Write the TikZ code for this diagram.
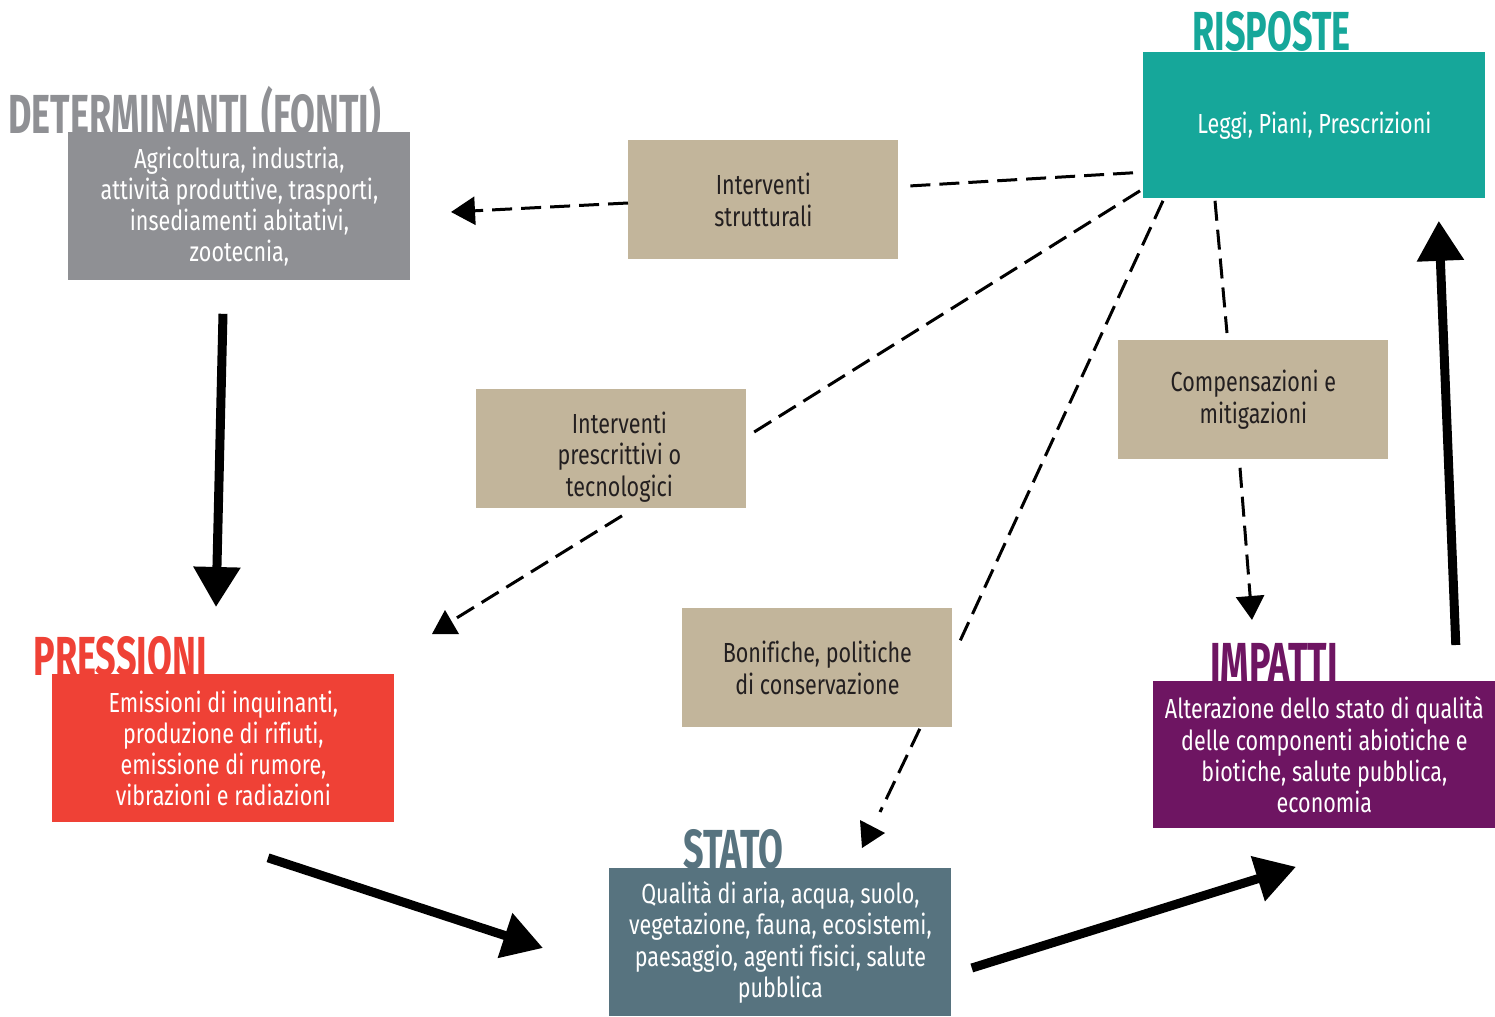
\documentclass[tikz,border=0pt]{standalone}
\usepackage{fontspec}
\setmainfont{Fira Sans}[FakeStretch=0.78, Ligatures=NoCommon]
\newfontfamily\titlefont{Fira Sans}[FakeStretch=0.655, Ligatures=NoCommon]
\usetikzlibrary{arrows.meta}
\definecolor{cgray}{HTML}{8F9094}
\definecolor{cteal}{HTML}{16A79A}
\definecolor{cred}{HTML}{EF4136}
\definecolor{cpurple}{HTML}{6E1562}
\definecolor{cslate}{HTML}{57737F}
\definecolor{ctan}{HTML}{C2B59B}
\definecolor{ctext}{HTML}{231F20}
\begin{document}
\begin{tikzpicture}[x=0.5pt,y=-0.5pt,
  box/.style={rectangle, anchor=north west, inner sep=0pt, align=center, text=white,
    minimum width=171pt, minimum height=74pt, font=\fontsize{13.8}{15.6}\selectfont},
  tanbox/.style={box, fill=ctan, text=ctext, minimum width=135pt, minimum height=59.5pt,
    font=\fontsize{13.8}{15.8}\selectfont},
  tantext/.style={inner sep=0pt, align=center, text=ctext, font=\fontsize{13.8}{15.8}\selectfont},
  ttl/.style={anchor=base west, inner sep=0pt, font=\titlefont\bfseries\fontsize{27.5}{30}\selectfont},
  bigarrow/.style={line width=4.5pt, -{Triangle[width=22.5pt,length=20pt]}},
  dashline/.style={line width=1.5pt, dash pattern=on 10pt off 4.5pt},
  dasharrow/.style={dashline, -{Triangle[width=14pt,length=12pt]}},
]
\useasboundingbox (0,0) rectangle (1495,1017);

% titles
\node[ttl, text=cgray] (tdet) at (8,133) {DETERMINANTI\kern2pt\ (FONTI)};
\node[ttl, text=cteal] (trisp) at (1192,50) {RISPOSTE};
\node[ttl, text=cred] (tpres) at (33,675) {PRESSIONI};
\node[ttl, text=cpurple] (timp) at (1210,681) {IMPATTI};
\node[ttl, text=cslate] (tstato) at (683,868) {STATO};

% main boxes
\node[box, fill=cgray] (det) at (68,132)
  {Agricoltura, industria,\\attività produttive, trasporti,\\insediamenti abitativi,\\zootecnia,};
\node[box, fill=cteal, minimum height=73pt] (risp) at (1143,52)
  {Leggi, Piani, Prescrizioni};
\node[box, fill=cred] (pres) at (52,674)
  {Emissioni di inquinanti,\\produzione di rifiuti,\\emissione di rumore,\\vibrazioni e radiazioni};
\node[box, fill=cpurple, minimum height=73.5pt] (imp) at (1153,681)
  {Alterazione dello stato di qualità\\delle componenti abiotiche e\\biotiche, salute pubblica,\\economia};
\node[box, fill=cslate] (stato) at (609,868)
  {Qualità di aria, acqua, suolo,\\vegetazione, fauna, ecosistemi,\\paesaggio, agenti fisici, salute\\pubblica};

% intermediate boxes
\node[tanbox] (strut) at (628,140) {Interventi\\strutturali};
\node[tanbox] (presc) at (476,389) {};
\node[tantext] (presct) at ([shift={(8,8)}]presc.center) {Interventi\\prescrittivi o\\tecnologici};
\node[tanbox] (comp) at (1118,340) {Compensazioni e\\mitigazioni};
\node[tanbox] (bonif) at (682,608) {Bonifiche, politiche\\di conservazione};

% free ends
\coordinate (tipA) at (451,212);
\coordinate (endB) at (455,619);
\coordinate (endC) at (880,812);
\coordinate (tipD) at (1252,620);

% thick arrows
\draw[bigarrow] ([shift={(155,33)}]det.south west) -- ([shift={(164,-67)}]pres.north west);
\draw[bigarrow] ([shift={(216,35)}]pres.south west) -- ([shift={(-66,80)}]stato.north west);
\draw[bigarrow] ([shift={(20,100)}]stato.north east) -- ([shift={(143,38)}]imp.south west);
\draw[bigarrow] ([shift={(-40,-36)}]imp.north east) -- ([shift={(-47,22)}]risp.south east);

% dashed connectors
\draw[dashline] ([shift={(-10,-26)}]risp.south west) -- ([shift={(10,46)}]strut.north east);
\draw[dasharrow] ([shift={(0,63)}]strut.north west) -- (tipA);

\draw[dashline] ([shift={(-3,-8)}]risp.south west) -- ([shift={(1,47)}]presc.north east);
\draw[dashline] ([shift={(146,7)}]presc.south west) -- (endB);
\fill (445,610) -- (432,634) -- (459,634) -- cycle;

\draw[dashline] ([shift={(20,2)}]risp.south west) -- ([shift={(4,40)}]bonif.north east);
\draw[dashline] ([shift={(-33,1)}]bonif.south east) -- (endC);
\fill (860,820) -- (885,833) -- (862,848) -- cycle;

\draw[dashline] ([shift={(72,2)}]risp.south west) -- ([shift={(109,-7)}]comp.north west);
\draw[dasharrow] ([shift={(122,8)}]comp.south west) -- (tipD);
\end{tikzpicture}
\end{document}
